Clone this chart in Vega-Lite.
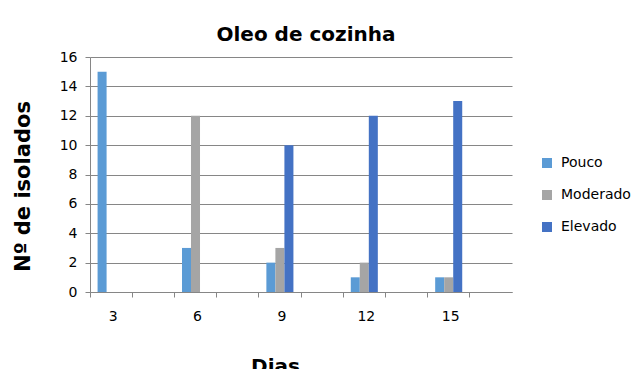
{
  "$schema": "https://vega.github.io/schema/vega-lite/v6.json",
  "width": 422,
  "height": 235,
  "autosize": {"type": "none"},
  "padding": {"left": 90, "top": 57, "right": 123, "bottom": 77},
  "background": "white",
  "title": {
    "text": "Oleo de cozinha",
    "font": "DejaVu Sans",
    "fontSize": 20,
    "fontWeight": "bold",
    "color": "#000000",
    "anchor": "middle",
    "baseline": "alphabetic",
    "offset": 15,
    "dx": 5,
    "dy": 26
  },
  "data": {
    "values": [
      {"dia": "3", "serie": "Pouco", "n": 15},
      {"dia": "3", "serie": "Moderado", "n": 0},
      {"dia": "3", "serie": "Elevado", "n": 0},
      {"dia": "6", "serie": "Pouco", "n": 3},
      {"dia": "6", "serie": "Moderado", "n": 12},
      {"dia": "6", "serie": "Elevado", "n": 0},
      {"dia": "9", "serie": "Pouco", "n": 2},
      {"dia": "9", "serie": "Moderado", "n": 3},
      {"dia": "9", "serie": "Elevado", "n": 10},
      {"dia": "12", "serie": "Pouco", "n": 1},
      {"dia": "12", "serie": "Moderado", "n": 2},
      {"dia": "12", "serie": "Elevado", "n": 12},
      {"dia": "15", "serie": "Pouco", "n": 1},
      {"dia": "15", "serie": "Moderado", "n": 1},
      {"dia": "15", "serie": "Elevado", "n": 13}
    ]
  },
  "mark": {"type": "bar"},
  "encoding": {
    "x": {
      "field": "dia",
      "type": "ordinal",
      "scale": {
        "domain": ["3", "a", "6", "b", "9", "c", "12", "d", "15", "e"],
        "paddingInner": 0,
        "paddingOuter": 0
      },
      "axis": {
        "title": "Dias",
        "titleFont": "DejaVu Sans",
        "titleFontSize": 20,
        "titleFontWeight": "bold",
        "titleColor": "#000000",
        "titleX": 185,
        "titleY": 80,
        "titleBaseline": "alphabetic",
        "titleAlign": "center",
        "labelAngle": 0,
        "labelExpr": "indexof(['3','6','9','12','15'], datum.value) >= 0 ? datum.value : ''",
        "bandPosition": 0,
        "labelOffset": 2,
        "labelFont": "DejaVu Sans",
        "labelFontSize": 14,
        "labelColor": "#000000",
        "labelPadding": 12,
        "tickSize": 5,
        "tickColor": "#868686",
        "domainColor": "#868686",
        "grid": false
      }
    },
    "xOffset": {
      "field": "serie",
      "type": "nominal",
      "sort": ["Pouco", "Moderado", "Elevado"],
      "scale": {"paddingInner": 0, "paddingOuter": 0.84}
    },
    "y": {
      "field": "n",
      "type": "quantitative",
      "scale": {"domain": [0, 16], "nice": false},
      "axis": {
        "title": "Nº de isolados",
        "titleFont": "DejaVu Sans",
        "titleFontSize": 21,
        "titleFontWeight": "bold",
        "titleColor": "#000000",
        "titleAngle": -90,
        "titleX": -61,
        "titleY": 129,
        "titleAlign": "center",
        "titleBaseline": "alphabetic",
        "values": [0, 2, 4, 6, 8, 10, 12, 14, 16],
        "labelFont": "DejaVu Sans",
        "labelFontSize": 14,
        "labelColor": "#000000",
        "labelPadding": 8,
        "tickSize": 5,
        "tickColor": "#868686",
        "domainColor": "#868686",
        "gridColor": "#868686",
        "gridWidth": 1
      }
    },
    "color": {
      "field": "serie",
      "type": "nominal",
      "sort": ["Pouco", "Moderado", "Elevado"],
      "scale": {
        "domain": ["Pouco", "Moderado", "Elevado"],
        "range": ["#5B9BD5", "#A5A5A5", "#4472C4"]
      },
      "legend": {
        "title": null,
        "orient": "none",
        "legendX": 450,
        "legendY": 99,
        "padding": 0,
        "symbolType": "square",
        "symbolSize": 100,
        "symbolStrokeWidth": 0,
        "labelFont": "DejaVu Sans",
        "labelFontSize": 14,
        "labelColor": "#000000",
        "labelOffset": 7,
        "rowPadding": 18
      }
    }
  },
  "config": {
    "view": {"stroke": null}
  }
}
